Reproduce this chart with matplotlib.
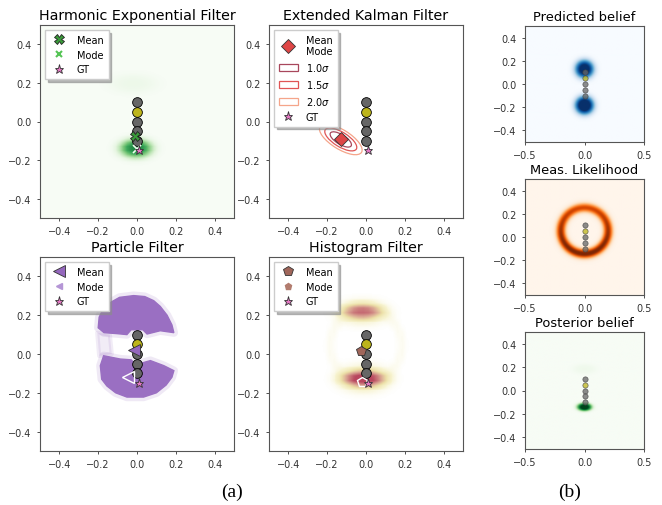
import numpy as np
import matplotlib
matplotlib.use('Agg')
import matplotlib.pyplot as plt
from matplotlib.patches import Ellipse, Polygon, Patch
from matplotlib.lines import Line2D
from matplotlib.colors import LinearSegmentedColormap

# trayectoria (circulos) y ground truth
traj_x = [0.0, 0.0, 0.0, 0.0, 0.0]
traj_y = [0.1, 0.05, 0.0, -0.05, -0.1]
traj_c = ['#666666', '#bdb51b', '#666666', '#666666', '#666666']
gt_x, gt_y = 0.01, -0.15

# estimaciones de cada filtro
hef_mean = (-0.012, -0.077)
hef_mode = (0.0, -0.14)
ekf_mean = (-0.13, -0.093)
ekf_angle = -32
ekf_sig_major = 0.063
ekf_sig_minor = 0.025
ekf_sigmas = [1.0, 1.5, 2.0]
ekf_colors = ['#a8475c', '#e05555', '#f5a58a']
pf_mean = (-0.017, 0.02)
pf_mode = (-0.045, -0.12)
hf_mean = (-0.024, 0.017)
hf_mode = (-0.022, -0.143)

# densidades: blobs (cx, cy, sx, sy, peso), anillos (cx, cy, r, s, peso_arriba, peso_abajo)
hef_blobs = [(-0.005, -0.142, 0.07, 0.04, 1.0), (-0.02, 0.2, 0.1, 0.04, 0.09)]
hf_blobs = [(-0.02, 0.224, 0.08, 0.03, 0.72), (-0.012, -0.13, 0.085, 0.032, 1.0),
            (-0.02, 0.22, 0.11, 0.055, 0.1), (-0.012, -0.13, 0.11, 0.06, 0.12)]
hf_rings = [(0.0, 0.045, 0.19, 0.02, 0.03, 0.03)]
pred_blobs = [(0.0, 0.13, 0.065, 0.065, 1.0), (0.0, -0.185, 0.065, 0.065, 1.08)]
meas_rings = [(0.0, 0.055, 0.2, 0.028, 0.72, 1.0)]
post_blobs = [(0.0, -0.142, 0.05, 0.028, 1.0), (0.0, 0.185, 0.08, 0.035, 0.05)]

# contorno de la nube de particulas
pf_upper_x = [-0.017, -0.09, -0.138, -0.175, -0.195, -0.2, -0.17, -0.103, -0.052, -0.03, 0.03, 0.052, 0.12, 0.19, 0.18, 0.155, 0.12, 0.086, 0.04]
pf_upper_y = [0.301, 0.292, 0.265, 0.23, 0.19, 0.135, 0.11, 0.105, 0.1, 0.125, 0.125, 0.103, 0.12, 0.11, 0.15, 0.2, 0.245, 0.275, 0.296]
pf_lower_x = [-0.172, -0.086, -0.03, -0.017, 0.03, 0.069, 0.138, 0.19, 0.18, 0.15, 0.1, 0.034, -0.052, -0.11, -0.155, -0.182, -0.189]
pf_lower_y = [-0.009, -0.026, -0.03, -0.045, -0.045, -0.034, -0.06, -0.086, -0.12, -0.16, -0.2, -0.222, -0.222, -0.2, -0.165, -0.13, -0.06]
pf_left_x = [-0.205, -0.14, -0.13, -0.195]
pf_left_y = [0.11, 0.1, 0.0, -0.01]


def density(blobs, rings, n, p=1.0):
    g = np.linspace(-0.5, 0.5, n)
    X, Y = np.meshgrid(g, g)
    Z = np.zeros_like(X)
    for cx, cy, sx, sy, w in blobs:
        d2 = ((X - cx) / sx) ** 2 + ((Y - cy) / sy) ** 2
        Z += w * np.exp(-0.5 * d2 ** p)
    for cx, cy, r, s, wt, wb in rings:
        R = np.hypot(X - cx, Y - cy)
        st = (Y - cy) / np.maximum(R, 1e-9)
        w = 0.5 * (wt + wb) + 0.5 * (wt - wb) * st
        Z += w * np.exp(-0.5 * (((R - r) / s) ** 2) ** p)
    return Z


def trayectoria(ax, small=False):
    for x, y, c in zip(traj_x, traj_y, traj_c):
        if small:
            ax.plot(x, y, 'o', color=c, ms=3.8, mec='#404040', mew=0.5, alpha=0.75, zorder=5)
        else:
            ax.plot(x, y, 'o', color=c, ms=7, mec='black', mew=0.6, zorder=5)


def gt(ax):
    ax.plot(gt_x, gt_y, '*', color='#e377c2', ms=6.5, mec='#333333', mew=0.6, zorder=9)


def estilo(ax, titulo, small=False):
    ax.set_xlim(-0.5, 0.5)
    ax.set_ylim(-0.5, 0.5)
    if small:
        ax.set_xticks([-0.5, 0.0, 0.5])
        ax.set_title(titulo, fontsize=9.4, pad=4)
    else:
        ax.set_xticks([-0.4, -0.2, 0.0, 0.2, 0.4])
        ax.set_title(titulo, fontsize=10.3, pad=4)
    ax.set_yticks([-0.4, -0.2, 0.0, 0.2, 0.4])
    ax.tick_params(labelsize=7, length=2.5, width=0.6, colors='#333333')
    for s in ax.spines.values():
        s.set_color('#555555')
        s.set_linewidth(0.8)


def leyenda(ax, handles):
    ax.legend(handles=handles, loc='upper left', fontsize=7, fancybox=False,
              shadow={'color': '0.55', 'alpha': 0.6},
              borderpad=0.5, labelspacing=0.5, handletextpad=0.8, edgecolor='#cccccc')


ext = (-0.5, 0.5, -0.5, 0.5)
gt_h = Line2D([], [], ls='', marker='*', color='#e377c2', ms=6.5, mec='#333333', mew=0.6, label='GT')

fig = plt.figure(figsize=(6.62, 5.06), dpi=100)
W, H = 662, 506


def eje(l, t, w, h):
    return fig.add_axes([l / W, 1 - (t + h) / H, w / W, h / H])


# Harmonic Exponential Filter
ax = eje(40, 26, 194, 193)
ax.imshow(density(hef_blobs, [], 50, p=1.5), extent=ext, origin='lower', cmap='Greens',
          vmin=0, vmax=1.3, interpolation='bilinear', aspect='auto')
trayectoria(ax)
ax.plot(*hef_mean, 'X', color='#3a9a3a', ms=7, mec='#222222', mew=0.6, zorder=7)
ax.plot(*hef_mode, 'x', color='#f0fff0', ms=6, mew=1.2, zorder=8)
gt(ax)
estilo(ax, 'Harmonic Exponential Filter')
leyenda(ax, [Line2D([], [], ls='', marker='X', color='#3a9a3a', ms=7, mec='#222222', mew=0.6, label='Mean'),
             Line2D([], [], ls='', marker='x', color='#55c455', ms=5, mew=1.5, label='Mode'), gt_h])

# Extended Kalman Filter
ax = eje(269, 26, 194, 193)
for k, c in zip(ekf_sigmas, ekf_colors):
    ax.add_patch(Ellipse(ekf_mean, 2 * k * ekf_sig_major, 2 * k * ekf_sig_minor, angle=ekf_angle,
                         fill=False, ec=c, lw=0.9, zorder=3))
trayectoria(ax)
ax.plot(*ekf_mean, 'D', color='#de4646', ms=7, mec='#333333', mew=0.6, zorder=7)
gt(ax)
estilo(ax, 'Extended Kalman Filter')
hs = [Line2D([], [], ls='', marker='D', color='#de4646', ms=7, mec='#333333', mew=0.6, label='Mean\nMode')]
for k, c in zip(ekf_sigmas, ekf_colors):
    hs.append(Patch(fc='white', ec=c, lw=0.9, label='%.1f$\\sigma$' % k))
hs.append(gt_h)
leyenda(ax, hs)

# Particle Filter
ax = eje(40, 258, 194, 194)
for px, py in [(pf_upper_x, pf_upper_y), (pf_lower_x, pf_lower_y)]:
    pts = np.column_stack([px, py])
    ax.add_patch(Polygon(pts, closed=True, fc='none', ec='#9467bd', lw=6, alpha=0.14, joinstyle='round', zorder=2))
    ax.add_patch(Polygon(pts, closed=True, fc='#9a6fc2', ec='#9a6fc2', lw=1.0, zorder=2))
ax.add_patch(Polygon(np.column_stack([pf_left_x, pf_left_y]), closed=True, fc='#9467bd', ec='#9467bd',
                     lw=3, alpha=0.12, joinstyle='round', zorder=1))
trayectoria(ax)
ax.plot(*pf_mean, '<', color='#9467bd', ms=8, mec='#333333', mew=0.6, zorder=7)
ax.plot(*pf_mode, '<', color='none', ms=8, mec='white', mew=1.0, zorder=7)
gt(ax)
estilo(ax, 'Particle Filter')
leyenda(ax, [Line2D([], [], ls='', marker='<', color='#9467bd', ms=8, mec='#333333', mew=0.6, label='Mean'),
             Line2D([], [], ls='', marker='<', color='#b596d6', ms=5, label='Mode'), gt_h])

# Histogram Filter
ax = eje(269, 258, 194, 194)
hf_cmap = LinearSegmentedColormap.from_list('hf', [(0, '#ffffff'), (0.1, '#f7f3cf'), (0.3, '#ece0a8'),
                                                    (0.6, '#d8a090'), (1.0, '#b8465e')])
ax.imshow(density(hf_blobs, hf_rings, 40, p=1.5), extent=ext, origin='lower', cmap=hf_cmap,
          vmin=0, vmax=1.0, interpolation='bilinear', aspect='auto')
trayectoria(ax)
ax.plot(*hf_mean, 'p', color='#a0665a', ms=7, mec='#333333', mew=0.6, zorder=7)
ax.plot(*hf_mode, 'p', color='none', ms=7, mec='white', mew=1.0, zorder=7)
gt(ax)
estilo(ax, 'Histogram Filter')
leyenda(ax, [Line2D([], [], ls='', marker='p', color='#a0665a', ms=7, mec='#333333', mew=0.6, label='Mean'),
             Line2D([], [], ls='', marker='p', color='#b27c6e', ms=5, label='Mode'), gt_h])

# columna derecha
ax = eje(525, 27, 119, 116)
ax.imshow(density(pred_blobs, [], 120, p=1.5), extent=ext, origin='lower', cmap='Blues',
          vmin=0, vmax=0.9, interpolation='bilinear', aspect='auto')
trayectoria(ax, small=True)
estilo(ax, 'Predicted belief', small=True)

ax = eje(525, 180, 119, 116)
ax.imshow(density([], meas_rings, 120), extent=ext, origin='lower', cmap='Oranges',
          vmin=0, vmax=0.95, interpolation='bilinear', aspect='auto')
trayectoria(ax, small=True)
estilo(ax, 'Meas. Likelihood', small=True)

ax = eje(525, 333, 119, 117)
ax.imshow(density(post_blobs, [], 120, p=1.5), extent=ext, origin='lower', cmap='Greens',
          vmin=0, vmax=0.9, interpolation='bilinear', aspect='auto')
trayectoria(ax, small=True)
estilo(ax, 'Posterior belief', small=True)

fig.text(232 / W, 1 - 492 / H, '(a)', family='Liberation Serif', fontsize=14, ha='center', va='center')
fig.text(570 / W, 1 - 492 / H, '(b)', family='Liberation Serif', fontsize=14, ha='center', va='center')

fig.savefig('out.png', dpi=100)
